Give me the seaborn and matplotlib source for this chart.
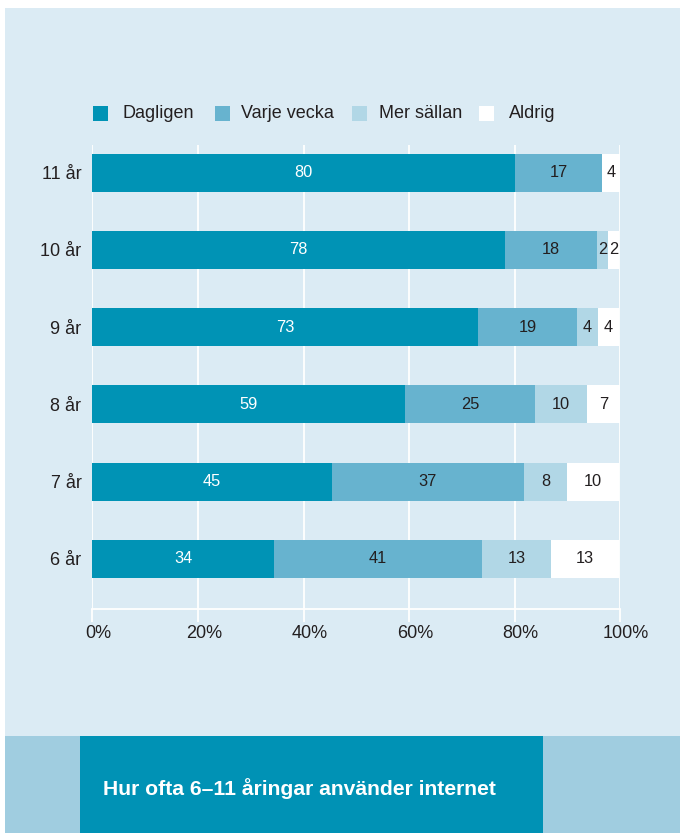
import matplotlib
matplotlib.use("Agg")
import matplotlib.pyplot as plt
import matplotlib.transforms as mtrans
from matplotlib.patches import Rectangle
import seaborn as sns
import pandas as pd

# ---------------- data ----------------
ages = ["11 år", "10 år", "9 år", "8 år", "7 år", "6 år"]
categories = ["Dagligen", "Varje vecka", "Mer sällan", "Aldrig"]
dagligen = [80.1, 78.2, 73.1, 59.2, 45.4, 34.4]
varje_vecka = [16.5, 17.4, 18.7, 24.7, 36.4, 39.4]
mer_sallan = [0.0, 2.1, 4.0, 9.8, 8.2, 13.1]
aldrig = [3.4, 2.1, 4.0, 6.3, 9.8, 12.9]
labels_dagligen = ["80", "78", "73", "59", "45", "34"]
labels_varje_vecka = ["17", "18", "19", "25", "37", "41"]
labels_mer_sallan = ["", "2", "4", "10", "8", "13"]
labels_aldrig = ["4", "2", "4", "7", "10", "13"]
xticks = [0, 20, 40, 60, 80, 100]
xtick_labels = ["0%", "20%", "40%", "60%", "80%", "100%"]
title = "Hur ofta 6\u201311 åringar använder internet"

# ---------------- style ----------------
sns.set_style("white")
plt.rcParams["font.family"] = ["Liberation Sans", "DejaVu Sans"]

colors = {"Dagligen": "#0093b5", "Varje vecka": "#67b3cf",
          "Mer sällan": "#b1d7e6", "Aldrig": "#ffffff"}
label_colors = {"Dagligen": "white", "Varje vecka": "#231f20",
                "Mer sällan": "#231f20", "Aldrig": "#231f20"}
panel_color = "#dbebf4"
band_light = "#a0cde0"
band_dark = "#0092b5"
text_color = "#231f20"

W, H = 680, 833
fig = plt.figure(figsize=(W / 100, H / 100), dpi=100)
fig.patch.set_facecolor("white")


def fx(x):
    return x / W


def fy(y):
    return 1 - y / H


# background panel and bottom band
fig.add_artist(Rectangle((fx(5), fy(736)), fx(680) - fx(5), fy(8) - fy(736),
                         transform=fig.transFigure, facecolor=panel_color,
                         edgecolor="none", zorder=-10))
fig.add_artist(Rectangle((fx(5), fy(833)), fx(680) - fx(5), fy(736) - fy(833),
                         transform=fig.transFigure, facecolor=band_light,
                         edgecolor="none", zorder=-10))
fig.add_artist(Rectangle((fx(80), fy(833)), fx(543) - fx(80), fy(736) - fy(833),
                         transform=fig.transFigure, facecolor=band_dark,
                         edgecolor="none", zorder=-9))
fig.text(fx(103), fy(789), title, color="white", fontsize=15.2,
         fontweight="bold", ha="left", va="center")

# axes
ax_left, ax_right, ax_top, ax_bottom = 92.5, 620, 145, 609
ax = fig.add_axes([fx(ax_left), fy(ax_bottom), fx(ax_right) - fx(ax_left),
                   fy(ax_top) - fy(ax_bottom)])
ax.patch.set_alpha(0)

df = pd.DataFrame({"age": ages, "Dagligen": dagligen, "Varje vecka": varje_vecka,
                   "Mer sällan": mer_sallan, "Aldrig": aldrig})
cum = df[categories].cumsum(axis=1)
cum["age"] = ages

for cat in reversed(categories):
    sns.barplot(data=cum, x=cat, y="age", orient="h", order=ages,
                color=colors[cat], saturation=1, width=0.49, linewidth=0,
                ax=ax, zorder=3)

label_lists = {"Dagligen": labels_dagligen, "Varje vecka": labels_varje_vecka,
               "Mer sällan": labels_mer_sallan, "Aldrig": labels_aldrig}
for cat in categories:
    ends = cum[cat].values
    vals = df[cat].values
    for i, (e, v, lab) in enumerate(zip(ends, vals, label_lists[cat])):
        if lab:
            ax.text(e - v / 2, i, lab, ha="center", va="center",
                    color=label_colors[cat], fontsize=11.8, zorder=5)

ax.set_xlim(0, 100)
ax.set_ylim(5.65, -0.36)
ax.set_xticks(xticks)
ax.set_xticklabels(xtick_labels)
ax.set_xlabel("")
ax.set_ylabel("")
ax.grid(axis="x", color="white", linewidth=1.3, zorder=0)
ax.grid(axis="y", visible=False)
ax.set_axisbelow(True)
for s in ["top", "right", "left"]:
    ax.spines[s].set_visible(False)
ax.spines["bottom"].set_color("white")
ax.spines["bottom"].set_linewidth(1.3)
ax.tick_params(axis="x", length=9.5, width=1.3, color="white", pad=2,
               labelsize=13, labelcolor=text_color, bottom=True)
ax.tick_params(axis="y", length=0, pad=8, labelsize=13, labelcolor=text_color)
offset = mtrans.ScaledTranslation(6 / 100, 0, fig.dpi_scale_trans)
for lab in ax.get_xticklabels():
    lab.set_transform(lab.get_transform() + offset)

# legend (manual, matching reference placement)
legend_sq_x = [93, 215, 352, 479]
legend_txt_x = [122, 241, 379, 509]
for cat, sx, tx in zip(categories, legend_sq_x, legend_txt_x):
    fig.add_artist(Rectangle((fx(sx), fy(121)), fx(15), 15 / H,
                             transform=fig.transFigure, facecolor=colors[cat],
                             edgecolor="none"))
    fig.text(fx(tx), fy(113.5), cat, fontsize=13, color=text_color,
             ha="left", va="center")

fig.savefig("out.png", dpi=100, facecolor=fig.get_facecolor())
